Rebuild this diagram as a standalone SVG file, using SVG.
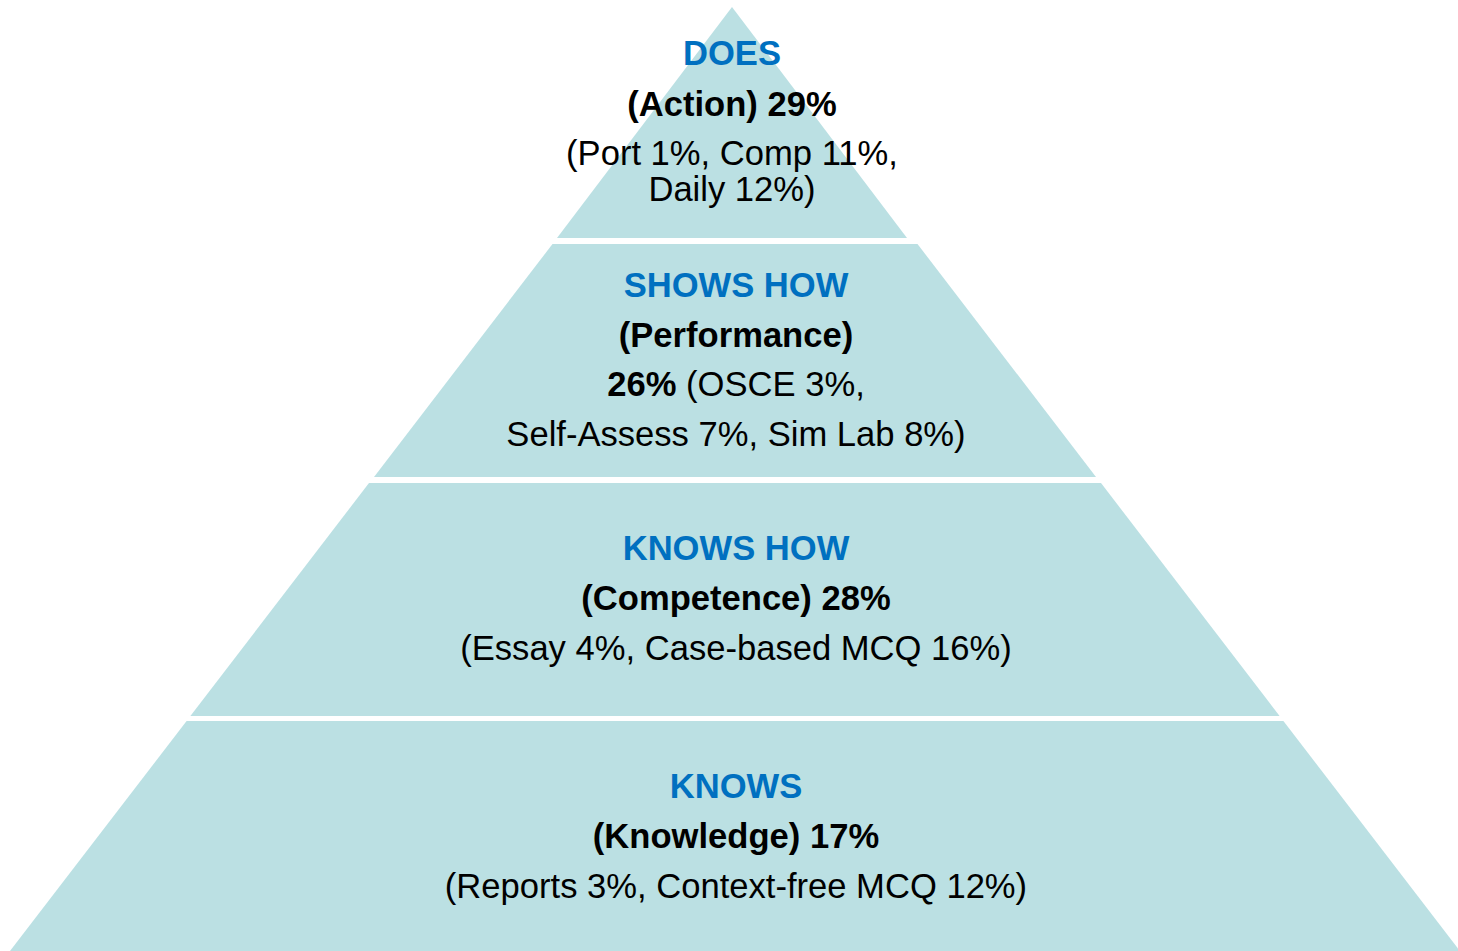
<svg xmlns="http://www.w3.org/2000/svg" width="1458" height="951" viewBox="0 0 1458 951">
<style>
.tier{fill:#BBE0E3;stroke:none}
text{font-family:"Liberation Sans",Arial,sans-serif;font-size:34.6px;text-anchor:middle;fill:#000}
.h{fill:#0070C0;font-weight:bold}
.b{font-weight:bold}
</style>
<rect width="1458" height="951" fill="#fff"/>
<g id="does">
<polygon class="tier" points="732,7 557,238 907,238"/>
<text class="h" x="732" y="65">DOES</text>
<text class="b" x="732" y="116">(Action) 29%</text>
<text x="732" y="165">(Port 1%, Comp 11%,</text>
<text x="732" y="201">Daily 12%)</text>
</g>
<g id="shows-how">
<polygon class="tier" points="552.5,244 917.5,244 1096,477 374,477"/>
<text class="h" x="736" y="297">SHOWS HOW</text>
<text class="b" x="736" y="347">(Performance)</text>
<text x="736" y="396"><tspan font-weight="bold">26%</tspan> (OSCE 3%,</text>
<text x="736" y="446">Self-Assess 7%, Sim Lab 8%)</text>
</g>
<g id="knows-how">
<polygon class="tier" points="369,483 1101,483 1279.6,716 190.4,716"/>
<text class="h" x="736" y="560">KNOWS HOW</text>
<text class="b" x="736" y="610">(Competence) 28%</text>
<text x="736" y="660">(Essay 4%, Case-based MCQ 16%)</text>
</g>
<g id="knows">
<polygon class="tier" points="186.6,721 1283.4,721 1460,951 10,951"/>
<text class="h" x="736" y="798">KNOWS</text>
<text class="b" x="736" y="848">(Knowledge) 17%</text>
<text x="736" y="898">(Reports 3%, Context-free MCQ 12%)</text>
</g>
<g id="connectors"/>
</svg>
